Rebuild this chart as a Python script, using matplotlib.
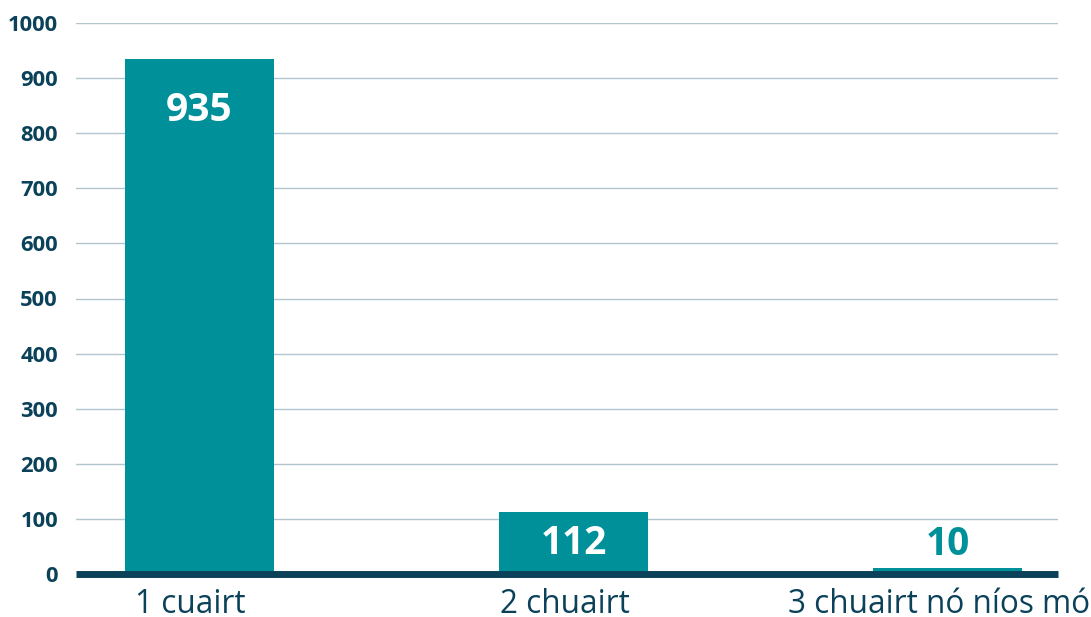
import matplotlib.pyplot as plt
from matplotlib.transforms import ScaledTranslation

# data
categories = ['1 cuairt', '2 chuairt', '3 chuairt nó níos mó']
counts = [935, 112, 10]
y_ticks = [0, 100, 200, 300, 400, 500, 600, 700, 800, 900, 1000]

teal = '#00909a'
navy = '#0b4259'
grid_col = '#b3c6cf'

plt.rcParams['font.family'] = ['Open Sans', 'DejaVu Sans']

fig = plt.figure(figsize=(10.91, 6.17), dpi=100)
ax = fig.add_axes([76 / 1091, 1 - 574 / 617, (1058 - 76) / 1091, (574 - 23) / 617])

x = list(range(len(categories)))
bars = ax.bar(x, counts, width=0.4, color=teal, zorder=2)

ax.set_xlim(-0.33, 2.295)
ax.set_ylim(0, 1000)
ax.set_yticks(y_ticks)
ax.set_yticklabels([str(t) for t in y_ticks], fontsize=15.8, fontweight='bold', color=navy)
ax.set_xticks(x)
ax.set_xticklabels(categories, fontsize=22.7, color=navy)
ax.tick_params(axis='both', length=0)
ax.tick_params(axis='y', pad=13)
ax.tick_params(axis='x', pad=10)

# x labels sit a little left of the bar centres
shift = ScaledTranslation(-9 / 100, 0, fig.dpi_scale_trans)
for lab in ax.get_xticklabels():
    lab.set_transform(lab.get_transform() + shift)

ax.grid(axis='y', color=grid_col, linewidth=1, zorder=0)
for s in ['top', 'right', 'left']:
    ax.spines[s].set_visible(False)
ax.spines['bottom'].set_color(navy)
ax.spines['bottom'].set_linewidth(5)
ax.spines['bottom'].set_capstyle('butt')
ax.spines['bottom'].set_zorder(3)

# value labels
for b, v in zip(bars, counts):
    cx = b.get_x() + b.get_width() / 2
    if v > 500:
        ax.annotate(str(v), (cx, v), xytext=(0, -37), textcoords='offset points',
                    ha='center', va='center', fontsize=28, fontweight='bold', color='white')
    elif v > 50:
        ax.annotate(str(v), (cx, v / 2), xytext=(0, 0), textcoords='offset points',
                    ha='center', va='center', fontsize=28, fontweight='bold', color='white')
    else:
        ax.annotate(str(v), (cx, v), xytext=(0, 17), textcoords='offset points',
                    ha='center', va='center', fontsize=28, fontweight='bold', color=teal)

fig.savefig('out.png', dpi=100)
